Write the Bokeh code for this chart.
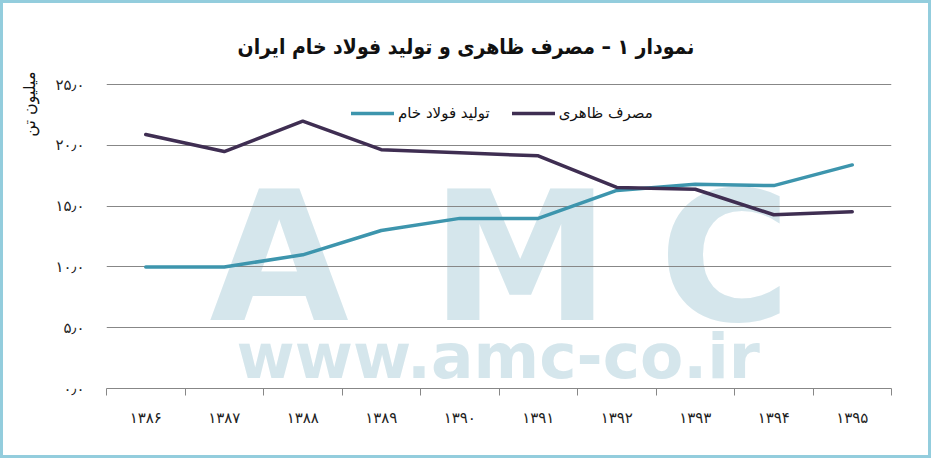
import numpy as np
from bokeh.plotting import figure
from bokeh.models import Range1d, FixedTicker, Label, Legend, LegendItem, Title
from bokeh.embed import file_html
from bokeh.resources import INLINE

# ---- data ----
years = ["۱۳۸۶", "۱۳۸۷", "۱۳۸۸", "۱۳۸۹", "۱۳۹۰", "۱۳۹۱", "۱۳۹۲", "۱۳۹۳", "۱۳۹۴", "۱۳۹۵"]
production = [10.0, 10.0, 11.0, 13.0, 14.0, 14.0, 16.3, 16.8, 16.7, 18.4]      # تولید فولاد خام
consumption = [20.9, 19.5, 22.0, 19.65, 19.4, 19.15, 16.55, 16.4, 14.3, 14.55]  # مصرف ظاهری
y_ticks = [0, 5, 10, 15, 20, 25]
y_tick_labels = ["۰٫۰", "۵٫۰", "۱۰٫۰", "۱۵٫۰", "۲۰٫۰", "۲۵٫۰"]
series_names = ["تولید فولاد خام", "مصرف ظاهری"]
title_text = "نمودار ۱ – مصرف ظاهری و تولید فولاد خام ایران"
y_label_text = "میلیون تن"

FONT = "DejaVu Sans"
TITLE_FONT = "DejaVu Sans Condensed"
TEAL = "#3d95ad"
DARK = "#3f2e52"
GRAY = "#878787"

n = len(years)
xs = [i + 0.5 for i in range(n)]

W, H = 931, 458
p = figure(width=W, height=H, output_backend="svg", toolbar_location=None,
           x_range=Range1d(0, n), y_range=Range1d(0, 25.1),
           min_border_left=103, min_border_top=80, min_border_right=43, min_border_bottom=73)
p.styles = {"border": "3px solid #93cddd"}
p.outline_line_color = None
p.background_fill_color = "white"
p.border_fill_color = "white"

# title
p.title.text = title_text
p.title.align = "left"
p.title.offset = 131
p.title.standoff = 50
p.title.text_font = TITLE_FONT
p.title.text_font_style = "bold"
p.title.text_font_size = "21px"
p.title.text_color = "#111111"

# y axis label as a left-side title
p.add_layout(Title(text=y_label_text, align="right", offset=-12, text_font=FONT,
                   text_font_style="normal", text_font_size="16px", text_color="#111111",
                   standoff=27), "left")

# watermark (decoration, placed in data space behind the grid)
wm_color = "#d5e6ec"
for ch, cx in zip(["A", "M", "C"], [2.2, 5.27, 7.88]):
    p.add_layout(Label(x=cx, y=10.75, text=ch,
                       text_font=FONT, text_font_style="bold", text_font_size="180px",
                       text_color=wm_color, text_align="center", text_baseline="alphabetic",
                       level="image"))
p.add_layout(Label(x=4.99, y=2.6, text="www.amc-co.ir",
                   text_font=FONT, text_font_style="bold", text_font_size="63px",
                   text_color=wm_color, text_align="center", text_baseline="alphabetic",
                   level="image"))

# axes
p.xaxis.ticker = FixedTicker(ticks=xs, minor_ticks=list(range(n + 1)))
p.xaxis.major_label_overrides = {x: y for x, y in zip(xs, years)}
p.xaxis.major_tick_line_color = None
p.xaxis.major_tick_out = 0
p.xaxis.minor_tick_out = 7
p.xaxis.minor_tick_in = 0
p.xaxis.minor_tick_line_color = GRAY
p.xaxis.axis_line_color = GRAY
p.xaxis.major_label_standoff = 13
p.xaxis.major_label_text_font = FONT
p.xaxis.major_label_text_font_size = "15px"
p.xaxis.major_label_text_color = "#222222"

p.yaxis.ticker = FixedTicker(ticks=y_ticks)
p.yaxis.major_label_overrides = {t: l for t, l in zip(y_ticks, y_tick_labels)}
p.yaxis.axis_line_color = None
p.yaxis.major_tick_line_color = None
p.yaxis.minor_tick_line_color = None
p.yaxis.major_label_standoff = 16
p.yaxis.major_label_text_font = FONT
p.yaxis.major_label_text_font_size = "15px"
p.yaxis.major_label_text_color = "#222222"

p.xgrid.grid_line_color = None
p.ygrid.ticker = FixedTicker(ticks=y_ticks[1:])
p.ygrid.grid_line_color = GRAY
p.ygrid.grid_line_width = 1

r_prod = p.line(xs, production, line_color=TEAL, line_width=3.5, line_cap="round", line_join="round")
r_cons = p.line(xs, consumption, line_color=DARK, line_width=3.5, line_cap="round", line_join="round")

legend = Legend(items=[LegendItem(label=series_names[0], renderers=[r_prod]),
                       LegendItem(label=series_names[1], renderers=[r_cons])],
                orientation="horizontal", location=(245, 265),
                padding=0, margin=0, spacing=22, label_standoff=4,
                glyph_width=43, glyph_height=20, label_height=20,
                label_text_font=FONT, label_text_font_size="15px", label_text_color="#111111",
                background_fill_alpha=0, border_line_color=None)
p.add_layout(legend, "center")

open("out.html", "w").write(file_html(p, INLINE))
